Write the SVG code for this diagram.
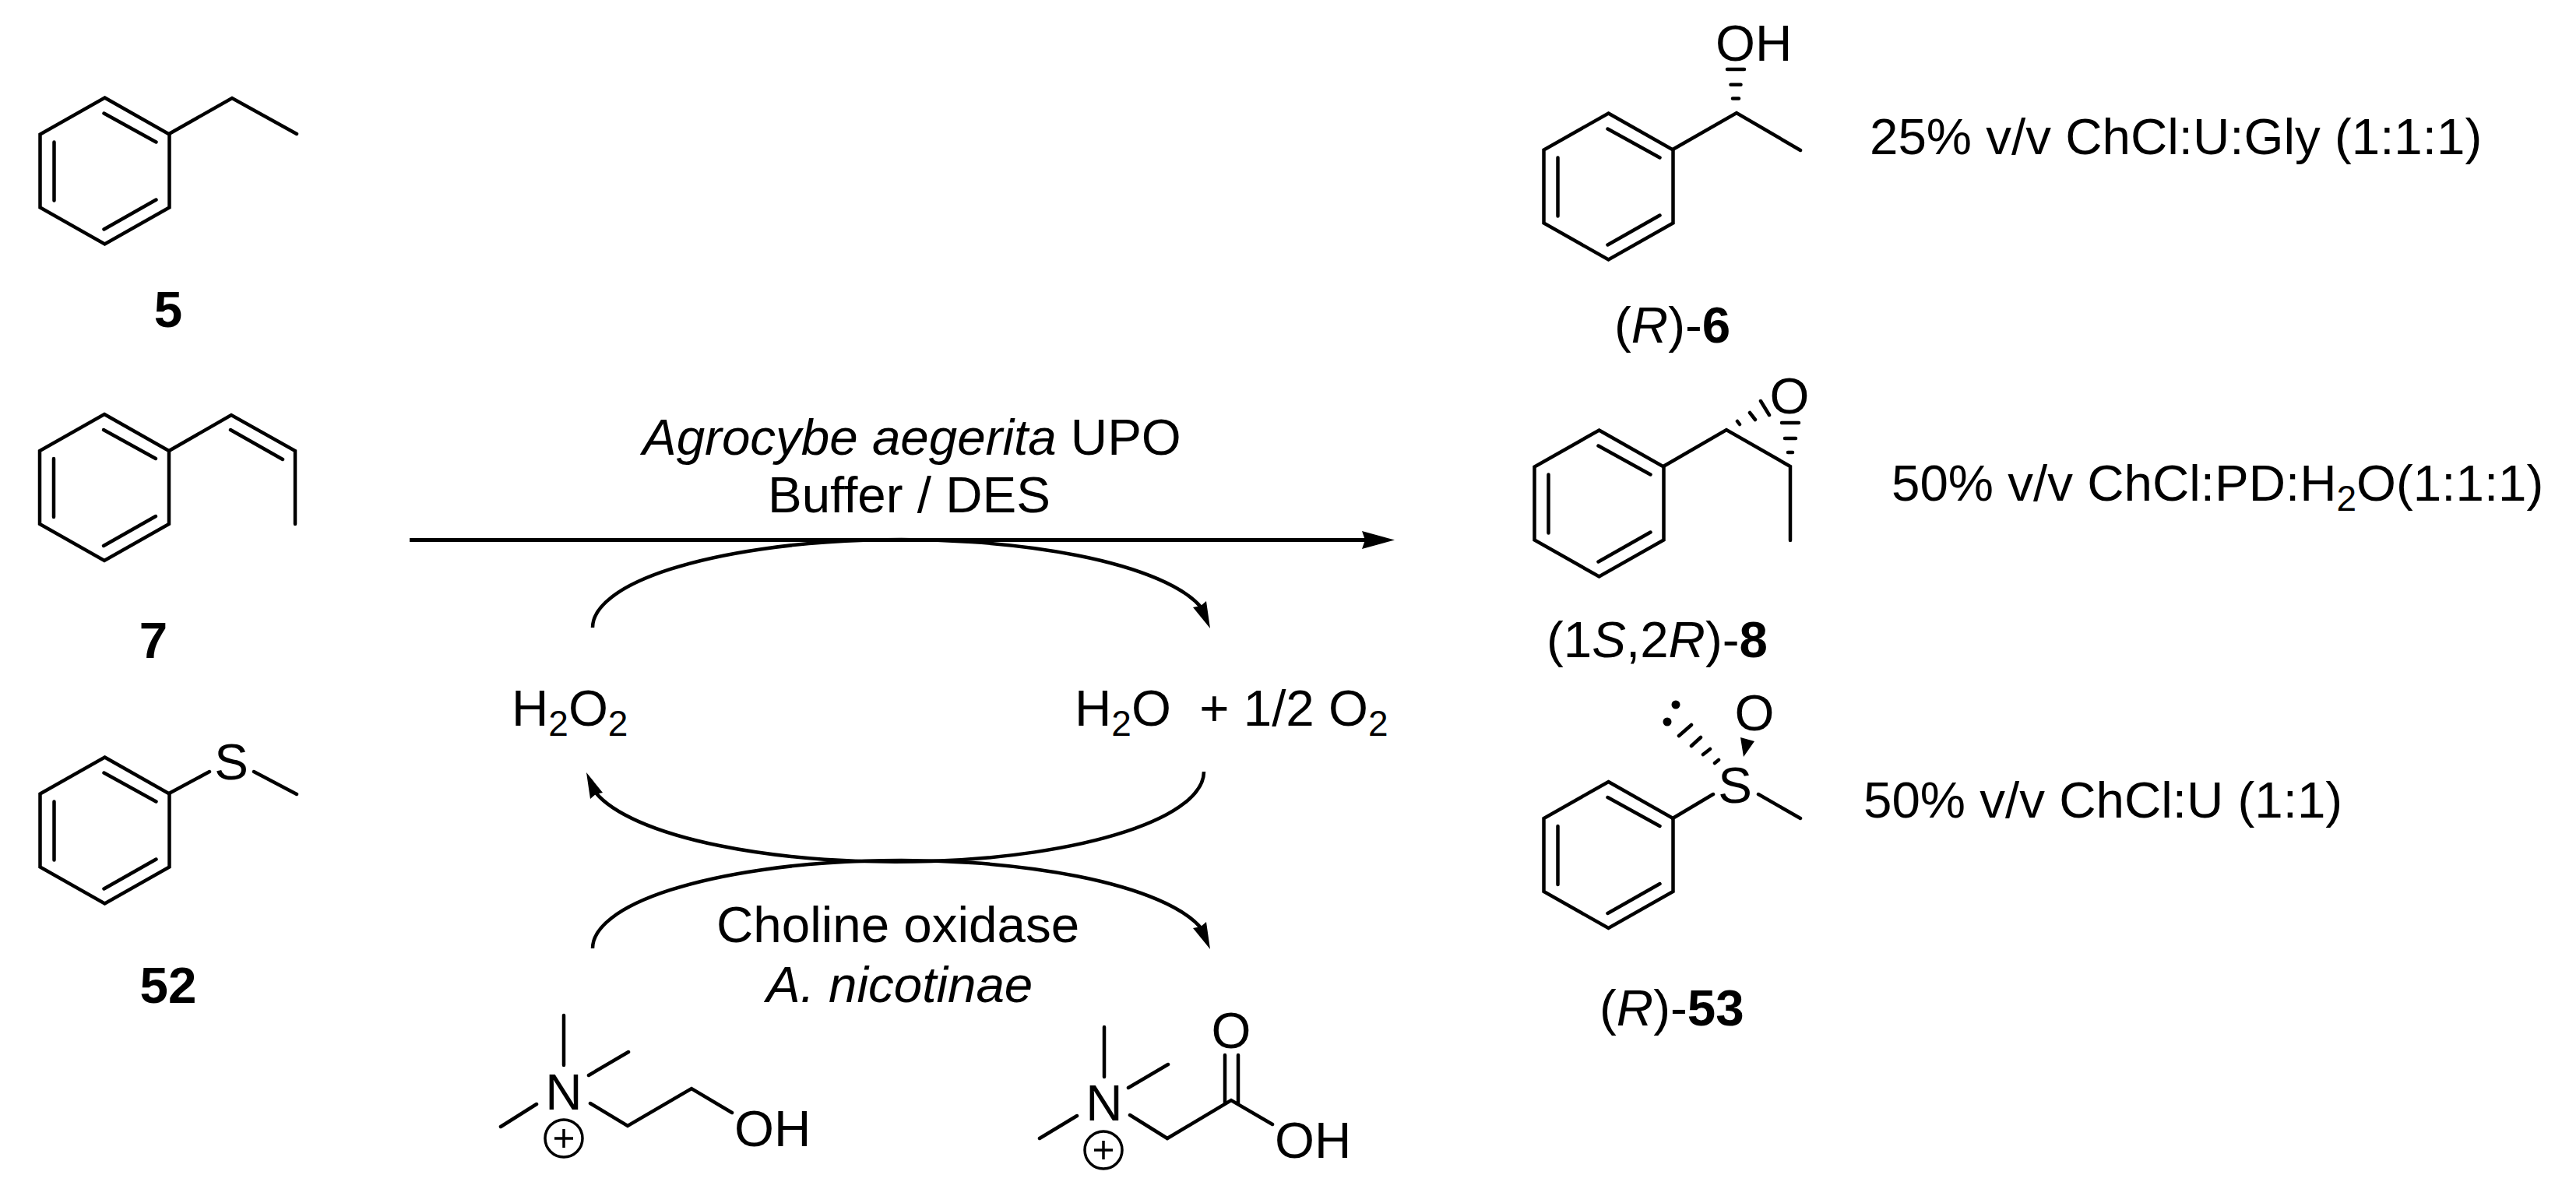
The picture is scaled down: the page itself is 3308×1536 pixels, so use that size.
<svg xmlns="http://www.w3.org/2000/svg" width="3308" height="1536" viewBox="0 0 3308 1536">
<style>
text{font-family:"Liberation Sans",Arial,sans-serif;font-size:65.500px;fill:#000}
.b{font-weight:bold}.i{font-style:italic}.s{font-size:46px}
.bond{fill:none;stroke:#000;stroke-width:4.500;stroke-linecap:round;stroke-linejoin:miter}
.arc{fill:none;stroke:#000;stroke-width:4.500}
.main{fill:none;stroke:#000;stroke-width:5}
.thin{fill:none;stroke:#000;stroke-width:3.500}
</style>
<defs>
<g id="ph"><path class="bond" d="M0 -94L83 -47V47L0 94L-83 47V-47Z"/><path class="bond" d="M-1 -74L66 -37M66 37L-1 75M-65 -37V38"/></g>
<g id="chg"><circle class="thin" cx="0" cy="0" r="24"/><path class="thin" d="M-12 0H12M0 -12V12"/></g>
</defs>
<rect width="3308" height="1536" fill="#fff"/>
<g id="connectors">
<path class="main" d="M526 693.500H1755"/><path d="M1791 693.500L1749 682L1753 693.500L1749 705Z"/>
<path class="arc" d="M761 806A396 113 0 0 1 1542 779.500"/><path d="M1554 807L1532 780L1542 778L1549 772Z"/>
<path class="arc" d="M1546 991A396 116 0 0 1 765 1018"/><path d="M753 992L758 1026L765 1020L774 1018Z"/>
<path class="arc" d="M761 1218A396 113 0 0 1 1542 1191.500"/><path d="M1554 1219L1532 1192L1542 1190L1549 1184Z"/>
</g>
<g id="node-5"><use href="#ph" x="134.500" y="219.500"/><path class="bond" d="M217 172L298 126L381 172"/><text class="b" x="216" y="420" text-anchor="middle">5</text></g>
<g id="node-7"><use href="#ph" x="134" y="626"/><path class="bond" d="M217 579L297 533L379 579V673M296 552L363 590"/><text class="b" x="197" y="845" text-anchor="middle">7</text></g>
<g id="node-52"><use href="#ph" x="134.500" y="1066.500"/><path class="bond" d="M217 1019L269 991M326 991L381 1020"/><text x="297" y="1001" text-anchor="middle">S</text><text class="b" x="216" y="1288" text-anchor="middle">52</text></g>
<g id="node-6"><use href="#ph" x="2065.500" y="239.500"/><path class="bond" d="M2225 126.500H2233M2222.500 108.700H2235.500M2218 89H2240M2148 192L2230 145L2312 193"/><text x="2203" y="78">OH</text><text x="2073" y="440">(<tspan class="i">R</tspan>)-<tspan class="b">6</tspan></text></g>
<g id="node-8"><use href="#ph" x="2053.500" y="646.500"/><path class="bond" d="M2136 599L2217 552L2299 599V694M2231 541L2234 545M2247 530L2254 539M2261 515L2272 533M2296 581H2302M2292 563H2306M2288 543H2310"/><text x="2298" y="531" text-anchor="middle">O</text><text x="1986" y="844">(1<tspan class="i">S</tspan>,2<tspan class="i">R</tspan>)-<tspan class="b">8</tspan></text></g>
<g id="node-53"><use href="#ph" x="2065.500" y="1098"/><path class="bond" d="M2148 1051L2200 1020M2258 1020L2312 1051M2202 980L2207 976M2187 969L2196 962M2172 958L2184 947M2156 945L2172 931"/><path d="M2239 972L2235 947L2253 952Z"/><circle cx="2141" cy="927" r="5.500"/><circle cx="2152" cy="905" r="5.500"/><text x="2228" y="1031" text-anchor="middle">S</text><text x="2253" y="938" text-anchor="middle">O</text><text x="2054" y="1317">(<tspan class="i">R</tspan>)-<tspan class="b">53</tspan></text></g>
<g id="node-choline"><path class="bond" d="M724 1368V1304M756 1381L807 1351M689 1418L643 1447M758 1417L806 1446L888 1398L940 1429"/><text x="724" y="1425" text-anchor="middle">N</text><use href="#chg" x="724" y="1462"/><text x="943" y="1472">OH</text></g>
<g id="node-betaine"><path class="bond" d="M1418 1383V1319M1449 1397L1500 1367M1383 1433L1335 1462M1451 1432L1499 1462L1581 1413L1634 1444M1573 1355V1417M1590 1355V1417"/><text x="1418" y="1439" text-anchor="middle">N</text><use href="#chg" x="1417" y="1477"/><text x="1581" y="1346" text-anchor="middle">O</text><text x="1637" y="1487">OH</text></g>
<g id="labels">
<text x="825" y="584"><tspan class="i">Agrocybe aegerita</tspan> UPO</text>
<text x="986" y="658">Buffer / DES</text>
<text x="657" y="932">H<tspan class="s" dy="13">2</tspan><tspan dy="-13">O</tspan><tspan class="s" dy="13">2</tspan></text>
<text x="1380" y="932">H<tspan class="s" dy="13">2</tspan><tspan dy="-13">O&#160; + 1/2 O</tspan><tspan class="s" dy="13">2</tspan></text>
<text x="920" y="1210">Choline oxidase</text>
<text class="i" x="984" y="1287">A. nicotinae</text>
<text x="2401" y="198">25% v/v ChCl:U:Gly (1:1:1)</text>
<text x="2429" y="643">50% v/v ChCl:PD:H<tspan class="s" dy="13">2</tspan><tspan dy="-13">O(1:1:1)</tspan></text>
<text x="2393" y="1050">50% v/v ChCl:U (1:1)</text>
</g>
</svg>
